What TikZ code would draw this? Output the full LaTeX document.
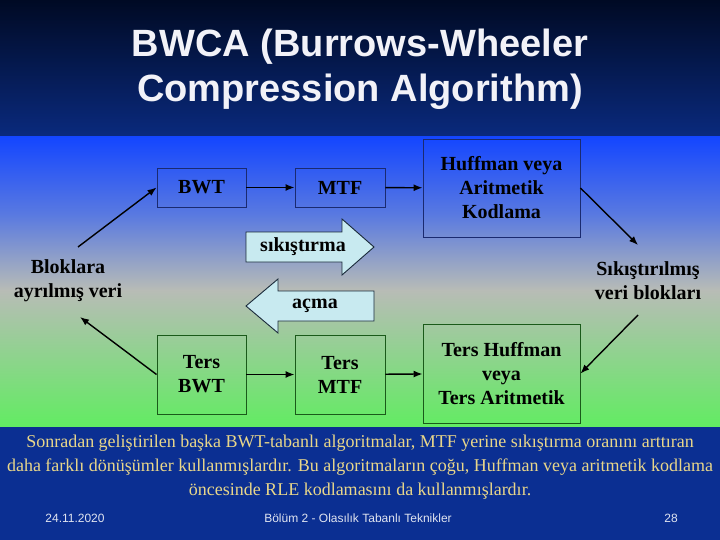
\documentclass[tikz,border=0pt]{standalone}
\usepackage{fontspec}
\setmainfont{Liberation Serif}
\newfontfamily\arialf{Liberation Sans}
\usetikzlibrary{arrows.meta,calc}
\definecolor{topA}{HTML}{000A24}
\definecolor{topB}{HTML}{0A2A7E}
\definecolor{imgA}{HTML}{1446FF}
\definecolor{imgB}{HTML}{5A7AE0}
\definecolor{imgC}{HTML}{B8BCB6}
\definecolor{imgD}{HTML}{62EC62}
\definecolor{botband}{HTML}{0B2F92}
\definecolor{navyline}{HTML}{1A2A70}
\definecolor{greenline}{HTML}{1A5A1A}
\definecolor{arrfill}{HTML}{C8EAF0}
\definecolor{arrline}{HTML}{1A2A3A}
\definecolor{noteyellow}{HTML}{E8D68A}
\definecolor{footgray}{HTML}{E0E4F0}
\definecolor{titlewhite}{HTML}{F2F2F8}
\tikzset{
  bfont/.style={font=\fontsize{20}{24}\selectfont\bfseries, align=center, inner sep=0pt},
  topbox/.style={bfont, draw=navyline, line width=0.9pt},
  botbox/.style={bfont, draw=greenline, line width=0.9pt},
  conn/.style={-{Latex[length=9pt,width=7pt]}, line width=1.4pt, black},
  barrow/.style={fill=arrfill, draw=arrline, line width=0.9pt},
  titlefont/.style={font=\arialf\fontsize{38}{45}\selectfont\bfseries, text=titlewhite, inner sep=0pt, anchor=base},
  notefont/.style={font=\fontsize{18}{24}\selectfont, text=noteyellow, align=center, inner sep=0pt},
  footfont/.style={font=\arialf\fontsize{12}{14}\selectfont, text=footgray, inner sep=0pt}
}
\begin{document}
\begin{tikzpicture}[x=1pt,y=-1pt]
\useasboundingbox (0,0) rectangle (720,540);
% backgrounds
\shade[top color=topA, bottom color=topB] (0,0) rectangle (720,137.5);
\shade[top color=imgA, bottom color=imgB] (0,137) rectangle (720,215.5);
\shade[top color=imgB, bottom color=imgC] (0,215) rectangle (720,290.5);
\shade[top color=imgC, bottom color=imgD] (0,290) rectangle (720,427);
\fill[botband] (0,427) rectangle (720,540);
% title
\node[titlefont] (t1) at (360,57) {BWCA (Burrows-Wheeler};
\node[titlefont] (t2) at (360,102) {Compression Algorithm)};
% top boxes
\node[topbox, minimum width=89pt, minimum height=39pt] (bwt) at (201.5,187.5) {BWT};
\node[topbox, minimum width=90pt, minimum height=39pt] (mtf) at (340,187.5) {MTF};
\node[topbox, minimum width=157pt, minimum height=98pt] (huf) at (501.5,188) {Huffman veya\\Aritmetik\\Kodlama};
% bottom boxes
\node[botbox, minimum width=89pt, minimum height=79pt] (tbwt) at (201.5,374.5) {Ters\\BWT};
\node[botbox, minimum width=90pt, minimum height=79pt] (tmtf) at (340,374.5) {Ters\\MTF};
\node[botbox, minimum width=157pt, minimum height=99pt] (thuf) at (501.5,373.5) {Ters Huffman\\veya\\Ters Aritmetik};
% side labels
\node[bfont] (blok) at (68,281) {Bloklara\\ayrılmış veri};
\node[bfont] (sik) at (648,281) {Sıkıştırılmış\\veri blokları};
\coordinate (blokout) at (78,247);
\coordinate (blokin) at (80,317);
\coordinate (sikin) at (638,245);
\coordinate (sikout) at (638,315);
% connectors
\draw[conn] (blokout) -- (bwt.west);
\draw[conn] (bwt) -- (mtf);
\draw[conn] (mtf) -- (huf);
\draw[conn] (huf.east) -- (sikin);
\draw[conn] (sikout) -- (thuf.east);
\draw[conn] (tmtf) -- (thuf);
\draw[conn] (tbwt) -- (tmtf);
\draw[conn] (tbwt.west) -- (blokin);
% block arrows
\draw[barrow] (246,232) -- (342,232) -- (342,219) -- (374,247) -- (342,275) -- (342,262) -- (246,262) -- cycle;
\node[bfont] (sikl) at (303,247) {sıkıştırma};
\draw[barrow] (374,291) -- (278,291) -- (278,279) -- (246,306) -- (278,333) -- (278,321) -- (374,321) -- cycle;
\node[bfont] (acl) at (315,306) {açma};
% note
\node[notefont] (note) at (360,467) {Sonradan geliştirilen başka BWT-tabanlı algoritmalar, MTF yerine sıkıştırma oranını arttıran\\daha farklı dönüşümler kullanmışlardır. Bu algoritmaların çoğu, Huffman veya aritmetik kodlama\\öncesinde RLE kodlamasını da kullanmışlardır.};
% footer
\node[footfont] (date) at (75,518) {24.11.2020};
\node[footfont] (foot) at (358,518) {Bölüm 2 - Olasılık Tabanlı Teknikler};
\node[footfont] (page) at (671,518) {28};
\end{tikzpicture}
\end{document}
